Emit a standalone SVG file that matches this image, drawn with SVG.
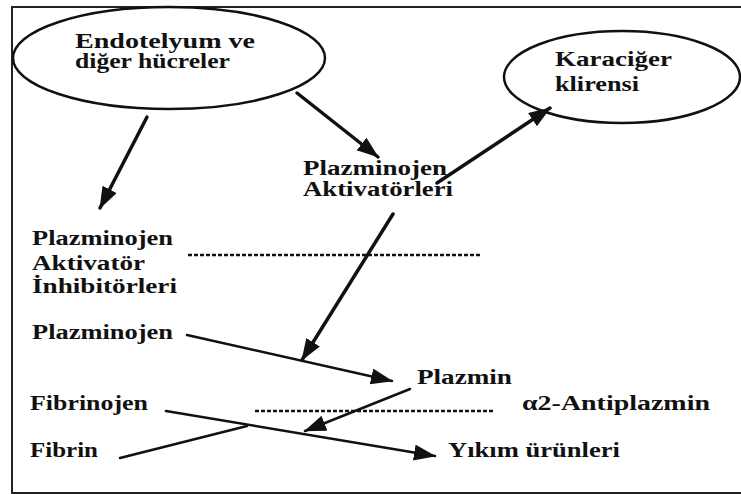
<svg xmlns="http://www.w3.org/2000/svg" width="741" height="494" viewBox="0 0 741 494">
<style>
.t{font-family:"Liberation Serif","Times New Roman",serif;font-weight:bold;font-size:20px;fill:#111}
.sh{fill:none;stroke:#111;stroke-width:2.5}
.ln{fill:none;stroke:#111;stroke-linecap:round}
.thick{stroke-width:3.5}
.thin{stroke-width:2.5}
.dash{fill:none;stroke:#111;stroke-width:2.5;stroke-dasharray:4 2}
</style>
<defs>
<marker id="ah" markerUnits="userSpaceOnUse" markerWidth="24" markerHeight="18" refX="21" refY="8" orient="auto">
<path d="M0,0 L22,8 L0,16 z" fill="#111"/>
</marker>
</defs>
<rect width="741" height="494" fill="#fff"/>
<path d="M741,7 H12 V493 H741" fill="none" stroke="#222" stroke-width="2"/>

<g id="endotel">
<ellipse class="sh" cx="169" cy="58" rx="156" ry="51"/>
<text class="t" transform="translate(75,48) scale(1.37,1)" textLength="131.4" lengthAdjust="spacingAndGlyphs">Endotelyum ve</text>
<text class="t" transform="translate(75,68) scale(1.37,1)" textLength="113.1" lengthAdjust="spacingAndGlyphs">diğer hücreler</text>
</g>
<g id="karaciger">
<ellipse class="sh" cx="622" cy="77" rx="118" ry="46"/>
<text class="t" transform="translate(555,66) scale(1.37,1)" textLength="85.4" lengthAdjust="spacingAndGlyphs">Karaciğer</text>
<text class="t" transform="translate(555,91) scale(1.37,1)" textLength="61.3" lengthAdjust="spacingAndGlyphs">klirensi</text>
</g>
<g id="aktivatorler">
<text class="t" transform="translate(303,175) scale(1.37,1)" textLength="105.1" lengthAdjust="spacingAndGlyphs">Plazminojen</text>
<text class="t" transform="translate(303,196) scale(1.37,1)" textLength="109.5" lengthAdjust="spacingAndGlyphs">Aktivatörleri</text>
</g>
<g id="inhibitorler">
<text class="t" transform="translate(32,245) scale(1.37,1)" textLength="102.9" lengthAdjust="spacingAndGlyphs">Plazminojen</text>
<text class="t" transform="translate(32,270) scale(1.37,1)" textLength="82.5" lengthAdjust="spacingAndGlyphs">Aktivatör</text>
<text class="t" transform="translate(32,293) scale(1.37,1)" textLength="105.8" lengthAdjust="spacingAndGlyphs">İnhibitörleri</text>
</g>
<g id="plazminojen">
<text class="t" transform="translate(32,339) scale(1.37,1)" textLength="102.9" lengthAdjust="spacingAndGlyphs">Plazminojen</text>
</g>
<g id="plazmin">
<text class="t" transform="translate(417,384) scale(1.37,1)" textLength="69.3" lengthAdjust="spacingAndGlyphs">Plazmin</text>
</g>
<g id="antiplazmin">
<text class="t" transform="translate(522,410) scale(1.37,1)" textLength="137.2" lengthAdjust="spacingAndGlyphs">α2-Antiplazmin</text>
</g>
<g id="fibrinojen">
<text class="t" transform="translate(30,410) scale(1.37,1)" textLength="86.1" lengthAdjust="spacingAndGlyphs">Fibrinojen</text>
</g>
<g id="fibrin">
<text class="t" transform="translate(30,457) scale(1.37,1)" textLength="49.6" lengthAdjust="spacingAndGlyphs">Fibrin</text>
</g>
<g id="yikim">
<text class="t" transform="translate(448,457) scale(1.37,1)" textLength="125.5" lengthAdjust="spacingAndGlyphs">Yıkım ürünleri</text>
</g>

<g id="connectors">
<line class="ln thick" x1="147" y1="117" x2="100" y2="208" marker-end="url(#ah)"/>
<line class="ln thick" x1="297" y1="93" x2="378" y2="157" marker-end="url(#ah)"/>
<line class="ln thick" x1="437" y1="183" x2="550" y2="108" marker-end="url(#ah)"/>
<line class="ln thick" x1="393" y1="214" x2="302" y2="360" marker-end="url(#ah)"/>
<line class="ln thin" x1="187" y1="335" x2="392" y2="381" marker-end="url(#ah)"/>
<line class="ln thin" x1="410" y1="389" x2="305" y2="431" marker-end="url(#ah)"/>
<line class="ln thin" x1="166" y1="411" x2="435" y2="456" marker-end="url(#ah)"/>
<line class="ln thin" x1="120" y1="458" x2="247" y2="426"/>
<line class="dash" x1="188" y1="255" x2="482" y2="255"/>
<line class="dash" x1="255" y1="411" x2="493" y2="411"/>
</g>
</svg>
